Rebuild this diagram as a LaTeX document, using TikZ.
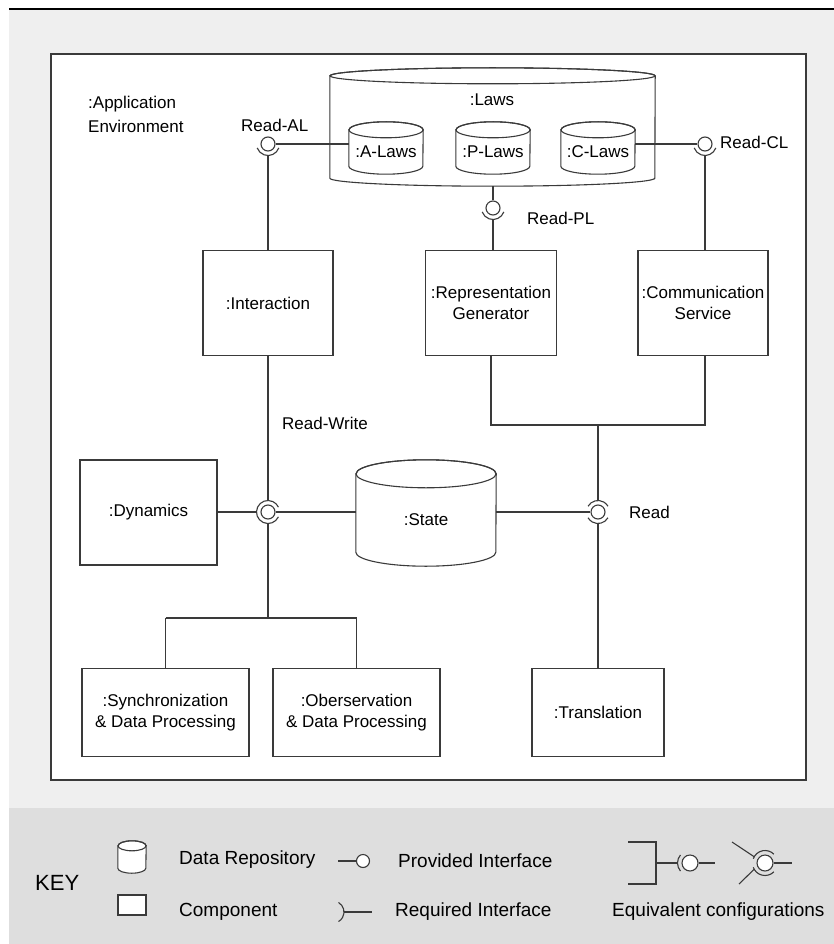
\documentclass[tikz,border=0pt]{standalone}
\usepackage{fontspec}
\setmainfont{Liberation Sans}
\usetikzlibrary{calc}
\definecolor{panelgray}{HTML}{EFEFEF}
\definecolor{keygray}{HTML}{DEDEDE}
\definecolor{linegray}{HTML}{3A3A3A}
\newcommand\diagfont{\fontsize{17}{20.5}\selectfont}
\newcommand\keyfont{\fontsize{19}{21}\selectfont}
% data repository: name, centre, width, height, ellipse half-height, label
\newcommand\repository[6]{%
  \node[minimum width=#3pt, minimum height=#4pt, inner sep=0pt] (#1) at (#2) {};
  \draw[conn, fill=white]
    ($(#1.north west)+(0,#5)$) -- ($(#1.south west)+(0,-#5)$)
    arc[start angle=180, end angle=0, x radius=#3/2, y radius=#5]
    -- ($(#1.north east)+(0,#5)$)
    arc[start angle=0, end angle=-180, x radius=#3/2, y radius=#5] -- cycle;
  \draw[conn] ($(#1.north)+(0,#5)$) ellipse[x radius=#3/2, y radius=#5];
  \node[lbl] at ($(#1.center)+(0,#5/2)$) {#6};
}
\begin{document}
\begin{tikzpicture}[x=1pt, y=-1pt,
  conn/.style={draw=linegray, line width=1.1pt},
  comp/.style={draw=linegray, line width=1.1pt, fill=white, align=center,
    inner sep=0pt, font=\diagfont},
  lbl/.style={inner sep=0pt, font=\diagfont, align=center},
  ball/.style={circle, draw=linegray, line width=1.1pt, fill=white,
    minimum size=14pt, inner sep=0pt},
  keytext/.style={inner sep=0pt, font=\keyfont, anchor=west}]

% canvas and panels
\useasboundingbox (0,0) rectangle (834,944);
\fill[white] (0,0) rectangle (834,944);
\fill[panelgray] (9,9) rectangle (834,808);
\fill[keygray] (9,808) rectangle (834,944);
\draw[black, line width=1.2pt] (9,9) -- (834,9);
\draw[conn, fill=white] (51,54) rectangle (806,780);

\node[lbl, anchor=west, align=left, font=\fontsize{17}{24}\selectfont]
  (appenv) at (88,114) {:Application\\Environment};

% laws repository with its three parts
\repository{laws}{492.5,127}{325}{118}{8}{}
\node[lbl] (lawslbl) at (492,100) {:Laws};
\repository{alaws}{386,148}{74}{52}{8}{:A-Laws}
\repository{plaws}{493,148}{74}{52}{8}{:P-Laws}
\repository{claws}{598,148}{74}{52}{8}{:C-Laws}

% components
\node[comp, minimum width=130pt, minimum height=105pt] (inter) at (268,303) {:Interaction};
\node[comp, minimum width=131pt, minimum height=105pt] (repgen) at (491,303) {:Representation\\Generator};
\node[comp, minimum width=130pt, minimum height=105pt] (commsvc) at (703,303) {:Communication\\Service};
\node[comp, minimum width=137pt, minimum height=105pt] (dyn) at (148.5,512.5) {:Dynamics};
\repository{state}{426,513}{140}{106}{14}{:State}
\node[comp, minimum width=167pt, minimum height=88pt] (sync) at (165.5,712.5) {:Synchronization\\\& Data Processing};
\node[comp, minimum width=167pt, minimum height=88pt] (obs) at (356.5,712.5) {:Oberservation\\\& Data Processing};
\node[comp, minimum width=132pt, minimum height=88pt] (transl) at (598,712.5) {:Translation};

% interface points
\node[ball] (readal) at (268,144) {};
\node[ball] (readpl) at (493,208) {};
\node[ball] (readcl) at (705,144) {};
\node[ball] (readwr) at (268,512) {};
\node[ball] (readst) at (598,512) {};
\coordinate (rgjoin) at (repgen.south |- 0,425);
\coordinate (csjoin) at (705,425);
\coordinate (rdjoin) at (readst |- 0,425);
\coordinate (syjoin) at (sync.north |- 0,618);
\coordinate (objoin) at (obs.north |- 0,618);
\coordinate (rwjoin) at (readwr |- 0,618);

% sockets around the balls
\draw[conn] (readal.center) ++(20:11.5) arc[start angle=20, end angle=160, radius=11.5];
\draw[conn] (readpl.center) ++(20:11.5) arc[start angle=20, end angle=160, radius=11.5];
\draw[conn] (readcl.center) ++(20:11.5) arc[start angle=20, end angle=160, radius=11.5];
\draw[conn] (readwr.center) ++(25:11.5) arc[start angle=25, end angle=335, radius=11.5];
\draw[conn] (readst.center) ++(30:11.5) arc[start angle=30, end angle=150, radius=11.5];
\draw[conn] (readst.center) ++(210:11.5) arc[start angle=210, end angle=330, radius=11.5];

% laws connectors
\draw[conn] (readal.east) -- (readal -| alaws.west);
\draw[conn] (readcl.west) -- (readcl -| claws.east);
\draw[conn] (readal.center) ++(0,11.5) -- (readal |- inter.north);
\draw[conn] (readcl.center) ++(0,11.5) -- (readcl |- commsvc.north);
\draw[conn] (readpl.north) -- (readpl |- laws.south);
\draw[conn] (readpl.center) ++(0,11.5) -- (readpl |- repgen.north);

% state connectors
\draw[conn] (inter.south) -- ($(readwr.center)+(0,-11.5)$);
\draw[conn] (dyn.east |- readwr) -- ($(readwr.center)+(-11.5,0)$);
\draw[conn] (readwr.east) -- (readwr -| state.west);
\draw[conn] ($(readwr.center)+(0,11.5)$) -- (rwjoin);
\draw[conn] (syjoin) -- (objoin);
\draw[conn] (syjoin) -- (sync.north);
\draw[conn] (objoin) -- (obs.north);
\draw[conn] (readst -| state.east) -- (readst.west);
\draw[conn] (repgen.south) -- (rgjoin) -- (csjoin) -- (csjoin |- commsvc.south);
\draw[conn] (rdjoin) -- ($(readst.center)+(0,-11.5)$);
\draw[conn] ($(readst.center)+(0,11.5)$) -- (readst |- transl.north);

% interface labels
\node[lbl, anchor=west] (lblal) at (241,125) {Read-AL};
\node[lbl, anchor=west] (lblcl) at (720,142) {Read-CL};
\node[lbl, anchor=west] (lblpl) at (527,218) {Read-PL};
\node[lbl, anchor=west] (lblrw) at (282,423) {Read-Write};
\node[lbl, anchor=west] (lblrd) at (629,512) {Read};

% key
\node[inner sep=0pt, font=\fontsize{22}{24}\selectfont, anchor=west] (keyttl) at (35,883) {KEY};
\repository{keyrepo}{132,857}{28}{32}{5}{}
\node[keytext] (krepo) at (179,860) {Data Repository};
\node[draw=linegray, line width=1.1pt, fill=white, minimum width=28pt,
  minimum height=20pt, inner sep=0pt] (kcomp) at (132,905) {};
\node[keytext] (kcomptxt) at (179,912) {Component};
\node[ball, minimum size=13pt] (kball) at (363,861) {};
\coordinate (kballtail) at (338,861);
\draw[conn] (kballtail) -- (kball.west);
\node[keytext] (kprov) at (398,861) {Provided Interface};
\coordinate (ksock) at (333,912);
\coordinate (ksocktail) at (372,912);
\draw[conn] (ksock) ++(-60:11) arc[start angle=-60, end angle=60, radius=11];
\draw[conn] ($(ksock)+(11,0)$) -- (ksocktail);
\node[keytext] (kreq) at (395,912) {Required Interface};

% equivalent configurations
\node[ball, minimum size=16pt] (eqball1) at (690,863) {};
\coordinate (eqtop) at (628,842);
\coordinate (eqbot) at (628,884);
\coordinate (eqtail1) at (715,863);
\draw[conn] (eqtop) -- (656,842) -- (656,884) -- (eqbot);
\draw[conn] (656,863) -- ($(eqball1.center)+(-12.5,0)$);
\draw[conn] (eqball1.center) ++(140:12.5) arc[start angle=140, end angle=220, radius=12.5];
\draw[conn] (eqball1.east) -- (eqtail1);
\node[ball, minimum size=16pt] (eqball2) at (765,863) {};
\coordinate (eqin1) at (732,842);
\coordinate (eqin2) at (739,884);
\coordinate (eqtail2) at (792,863);
\draw[conn] (eqball2.center) ++(45:12.5) arc[start angle=45, end angle=160, radius=12.5];
\draw[conn] (eqball2.center) ++(200:12.5) arc[start angle=200, end angle=315, radius=12.5];
\draw[conn] (eqin1) -- ($(eqball2.center)+(-150:12.5)$);
\draw[conn] (eqin2) -- ($(eqball2.center)+(150:12.5)$);
\draw[conn] (eqball2.east) -- (eqtail2);
\node[keytext] (keq) at (612,912) {Equivalent configurations};
\end{tikzpicture}
\end{document}
